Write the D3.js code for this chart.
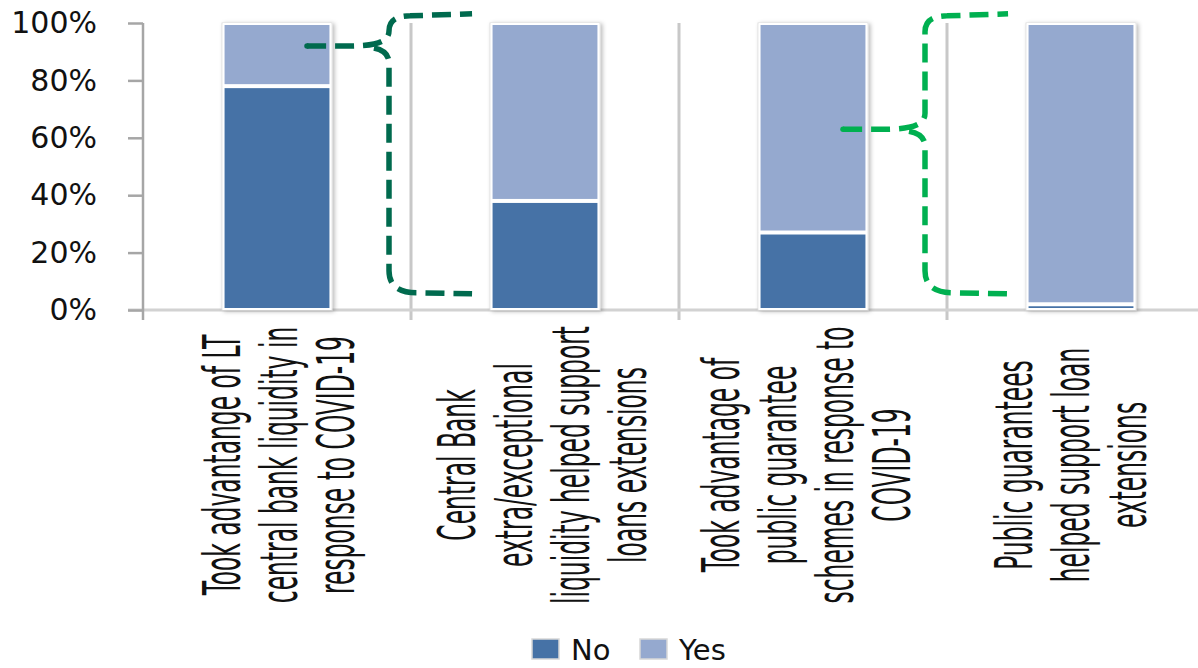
<!DOCTYPE html>
<html>
<head>
<meta charset="utf-8">
<script src="https://cdn.jsdelivr.net/npm/d3@7/dist/d3.min.js"></script>
<style>
  html, body { margin: 0; padding: 0; background: #fff; }
  svg { display: block; }
</style>
</head>
<body>
<svg id="chart" width="1198" height="668"></svg>
<script>
// Survey responses (% of banks)
const categories = [
  "Took advantange of LT central bank liquidity in response to COVID-19",
  "Central Bank extra/exceptional liquidity helped support loans extensions",
  "Took advantage of public guarantee schemes in response to COVID-19",
  "Public guarantees helped support loan extensions"
];
const categoryLines = [
  ["Took advantange of LT", "central bank liquidity in", "response to COVID-19"],
  ["Central Bank", "extra/exceptional", "liquidity helped support", "loans extensions"],
  ["Took advantage of", "public guarantee", "schemes in response to", "COVID-19"],
  ["Public guarantees", "helped support loan", "extensions"]
];
const seriesNames = ["No", "Yes"];
const noValues = [78, 38, 27, 2];
const yesValues = [22, 62, 73, 98];
const yTicks = [0, 20, 40, 60, 80, 100];

// Callouts linking a question to its follow-up question
const callouts = [
  { from: 0, to: 1, at: 92, color: "#006a4e" },
  { from: 2, to: 3, at: 63, color: "#00b050" }
];

const colors = { No: "#4672a6", Yes: "#95a9cf" };

const svg = d3.select("#chart");

const x = d3.scaleBand()
  .domain(d3.range(categories.length))
  .range([143, 143 + 268 * categories.length])
  .paddingInner(0.59)
  .paddingOuter(0.295);
const step = x.step();
const bw = x.bandwidth();
const sepX = i => x(i) - step * x.paddingInner() / 2;   // boundary left of band i

const y = d3.scaleLinear().domain([0, 100]).range([310, 23]);

// drop shadow for bars
const defs = svg.append("defs");
const f = defs.append("filter").attr("id", "shadow")
  .attr("x", "-20%").attr("y", "-10%").attr("width", "140%").attr("height", "120%");
f.append("feDropShadow").attr("dx", 2).attr("dy", 1)
  .attr("stdDeviation", 2).attr("flood-color", "#000").attr("flood-opacity", 0.28);

// category separators
svg.append("g").selectAll("line")
  .data(d3.range(1, categories.length))
  .join("line")
  .attr("x1", d => sepX(d)).attr("x2", d => sepX(d))
  .attr("y1", y(100)).attr("y2", y(0) + 10)
  .attr("stroke", "#c8c8c8").attr("stroke-width", 3);

// x axis baseline
svg.append("line")
  .attr("x1", 128).attr("x2", 1198)
  .attr("y1", y(0)).attr("y2", y(0))
  .attr("stroke", "#d2d2d2").attr("stroke-width", 3);

// y axis
const yAxis = d3.axisLeft(y)
  .tickValues(yTicks)
  .tickFormat(d => d + "%")
  .tickSize(15)
  .tickPadding(31);
const ya = svg.append("g")
  .attr("transform", `translate(${x.range()[0]},0)`)
  .call(yAxis);
ya.select(".domain").remove();
ya.append("line")
  .attr("x1", 0).attr("x2", 0).attr("y1", y(100)).attr("y2", y(0) + 10)
  .attr("stroke", "#a6a6a6").attr("stroke-width", 2.5);
ya.selectAll(".tick line").attr("stroke", "#a6a6a6").attr("stroke-width", 2.5);
ya.selectAll(".tick text")
  .attr("fill", "#111")
  .style("font-family", "'DejaVu Sans', sans-serif")
  .style("font-size", "30px");

// stacked bars
const stackData = categories.map((c, i) => ({ i, No: noValues[i], Yes: yesValues[i] }));
const stacked = d3.stack().keys(seriesNames)(stackData);

const barG = svg.append("g");
barG.selectAll("rect.back")
  .data(stackData)
  .join("rect")
  .attr("class", "back")
  .attr("x", d => x(d.i)).attr("width", bw)
  .attr("y", d => y(d.No + d.Yes)).attr("height", d => y(0) - y(d.No + d.Yes))
  .attr("fill", "#fff")
  .attr("stroke", "#dcdcdc").attr("stroke-width", 1)
  .attr("filter", "url(#shadow)");

barG.selectAll("g.series")
  .data(stacked)
  .join("g")
  .attr("class", "series")
  .attr("fill", d => colors[d.key])
  .selectAll("rect")
  .data(d => d)
  .join("rect")
  .attr("x", d => x(d.data.i) + 1.5)
  .attr("width", bw - 3)
  .attr("y", d => y(d[1]) + 1)
  .attr("height", d => Math.max(0, y(d[0]) - y(d[1]) - 2))
  .attr("stroke", "#fff").attr("stroke-width", 2);

// category labels, rotated and condensed
const labG = svg.append("g")
  .style("font-family", "'Liberation Sans Narrow', 'Arial Narrow', 'DejaVu Sans Condensed', sans-serif")
  .style("font-size", "51px")
  .attr("fill", "#111");
const lineGap = 57;
categoryLines.forEach((lines, i) => {
  const cx = x(i) + bw / 2 + 2 - i * 4;
  lines.forEach((ln, j) => {
    const lx = cx + (j - (lines.length - 1) / 2) * lineGap;
    labG.append("text")
      .attr("transform", `translate(${lx},465) rotate(-90) scale(0.51,1)`)
      .attr("text-anchor", "middle")
      .attr("dominant-baseline", "central")
      .text(ln);
  });
});

// dashed curly-brace callouts
const callG = svg.append("g").attr("fill", "none");
callouts.forEach(c => {
  const sx = x(c.from) + bw / 2 + 30;
  const ty = y(c.at);
  const spine = sepX(c.to) - 22;
  const ex = x(c.to) - 18;
  const topY = y(102.5), botY = y(6);
  const r = Math.min(16, (ty - topY) / 2);
  const rb = 22;
  const upper = `M${sx},${ty} C${sx + 30},${ty} ${spine - r - 12},${ty + 1} ${spine - r},${ty - 2}` +
    ` Q${spine},${ty - 5} ${spine},${ty - r}` +
    ` L${spine},${topY + r} Q${spine},${topY} ${spine + r + 6},${topY} L${ex},${topY - 2}`;
  const lower = `M${spine - r},${ty + 2} Q${spine},${ty + 5} ${spine},${ty + 17}` +
    ` L${spine},${botY - rb} Q${spine},${botY} ${spine + rb + 6},${botY} L${ex},${botY + 1}`;
  [upper, lower].forEach(p => callG.append("path")
    .attr("d", p)
    .attr("stroke", c.color)
    .attr("stroke-width", 5.5)
    .attr("stroke-dasharray", "19 9"));
  callG.append("circle").attr("cx", sx).attr("cy", ty).attr("r", 2.75).attr("fill", c.color);
});

// legend
const legend = svg.append("g")
  .style("font-family", "'DejaVu Sans', sans-serif")
  .style("font-size", "29px");
const legendX = [532, 640];
seriesNames.forEach((k, i) => {
  const g = legend.append("g").attr("transform", `translate(${legendX[i]},639)`);
  g.append("rect").attr("width", 27).attr("height", 20)
    .attr("fill", colors[k]).attr("stroke", "#d8d8d8").attr("stroke-width", 1.5);
  g.append("text").attr("x", 39).attr("y", 21).attr("fill", "#111").text(k);
});
</script>
</body>
</html>
